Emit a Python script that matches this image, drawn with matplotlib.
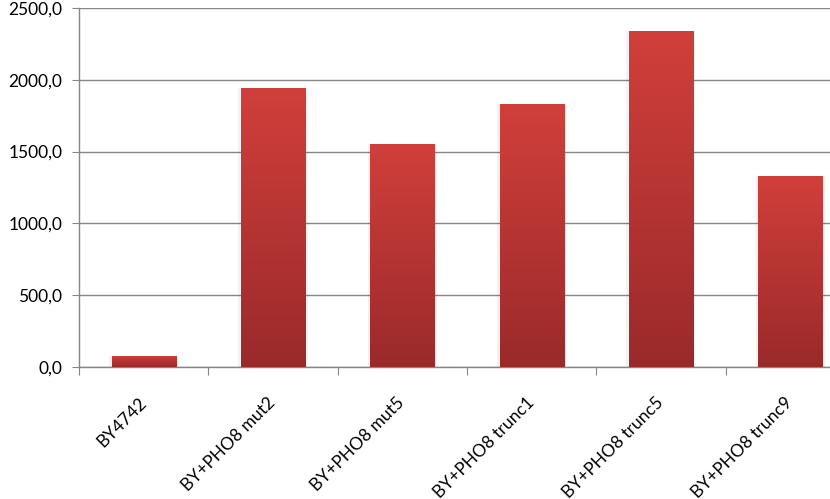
import numpy as np
import matplotlib
matplotlib.use('Agg')
import matplotlib.pyplot as plt
import matplotlib.transforms as mtransforms
from matplotlib.colors import LinearSegmentedColormap
from matplotlib.ticker import FuncFormatter

strains = ['BY4742', 'BY+PHO8 mut2', 'BY+PHO8 mut5', 'BY+PHO8 trunc1',
           'BY+PHO8 trunc5', 'BY+PHO8 trunc9']
activity = [77, 1943, 1553, 1831, 2340, 1330]

plt.rcParams['font.family'] = ['Lato', 'DejaVu Sans']

W, H = 830, 499
fig = plt.figure(figsize=(W / 100, H / 100), dpi=100)
# plot area in pixels: x 79 -> 830 (cut off at figure edge), y 8 -> 367
ax = fig.add_axes([79 / W, (H - 367) / H, (W - 79) / W, 359 / H])

grid_col = '#868686'
cmap = LinearSegmentedColormap.from_list('redgrad', ['#9a2a2a', '#d13f3b'])
grad = np.linspace(0, 1, 256).reshape(-1, 1)

x = np.arange(len(strains))
bars = ax.bar(x, activity, width=0.495, color='none', zorder=3)
for b in bars:
    x0, y0, w, h = b.get_x(), b.get_y(), b.get_width(), b.get_height()
    # soft shadow
    ax.bar(x0 + w / 2, h, width=w + 0.04, bottom=0, color='#000000', alpha=0.05,
           zorder=2.5)
    im = ax.imshow(grad, extent=[x0, x0 + w, y0, y0 + h], origin='lower',
                   cmap=cmap, aspect='auto', zorder=3)
    im.set_clip_path(b)

ax.set_yticks(np.arange(0, 2501, 500))
ax.yaxis.set_major_formatter(FuncFormatter(lambda v, p: f'{v:.1f}'.replace('.', ',')))
ax.grid(axis='y', color=grid_col, linewidth=1, zorder=0)
ax.set_axisbelow(True)

ax.set_xticks(np.arange(-0.5, len(strains), 1))
ax.set_xticklabels([])
ax.set_xticks(x, minor=True)
ax.set_xticklabels(strains, minor=True, rotation=45, ha='right', va='center',
                   rotation_mode='anchor', fontsize=12.5)
shift = mtransforms.ScaledTranslation(4 / 72, 0, fig.dpi_scale_trans)
for lab in ax.get_xticklabels(minor=True):
    lab.set_transform(lab.get_transform() + shift)
ax.tick_params(axis='x', which='minor', length=0, pad=24)
ax.tick_params(axis='x', which='major', length=6, color=grid_col, direction='out')
ax.tick_params(axis='y', length=5, color=grid_col, labelsize=12.5, pad=7)

ax.set_xlim(-0.5, (830 - 79) / 129.3 - 0.5)
ax.set_ylim(0, 2500)

for s in ['top', 'right']:
    ax.spines[s].set_visible(False)
for s in ['left', 'bottom']:
    ax.spines[s].set_color(grid_col)
    ax.spines[s].set_linewidth(1)

fig.savefig('out.png', dpi=100)
